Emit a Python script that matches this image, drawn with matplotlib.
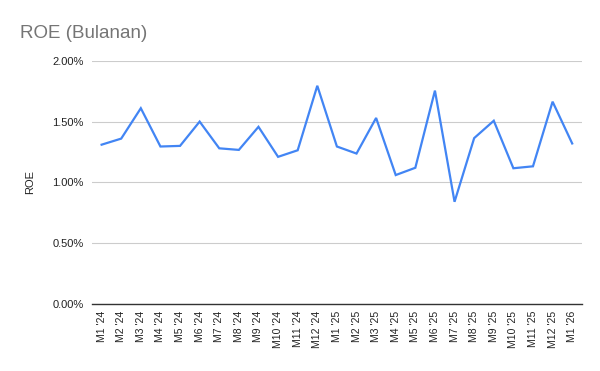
import matplotlib.pyplot as plt
from matplotlib.ticker import FuncFormatter

plt.rcParams['font.family'] = ['Liberation Sans', 'DejaVu Sans']

# ROE bulanan (%)
bulan = ["M1 '24", "M2 '24", "M3 '24", "M4 '24", "M5 '24", "M6 '24", "M7 '24",
         "M8 '24", "M9 '24", "M10 '24", "M11 '24", "M12 '24",
         "M1 '25", "M2 '25", "M3 '25", "M4 '25", "M5 '25", "M6 '25", "M7 '25",
         "M8 '25", "M9 '25", "M10 '25", "M11 '25", "M12 '25", "M1 '26"]
roe = [1.31, 1.36, 1.61, 1.295, 1.30, 1.50, 1.28, 1.267, 1.457, 1.21, 1.264, 1.795,
       1.295, 1.237, 1.53, 1.06, 1.12, 1.755, 0.84, 1.364, 1.507, 1.116, 1.132, 1.664,
       1.32]

fig = plt.figure(figsize=(6, 3.71), dpi=100)
ax = fig.add_axes([0.153, 0.181, 0.817, 0.655])

x = range(len(bulan))
ax.plot(x, roe, color='#4285F4', linewidth=1.6, solid_joinstyle='miter')

ax.set_ylim(0, 2.0)
ax.set_yticks([0, 0.5, 1.0, 1.5, 2.0])
ax.yaxis.set_major_formatter(FuncFormatter(lambda v, p: f'{v:.2f}%'))
ax.set_xlim(-0.5, len(bulan) - 0.5)
ax.set_xticks(list(x))
ax.set_xticklabels(bulan, rotation=90)

ax.grid(axis='y', color='#cccccc', linewidth=0.8)
ax.set_axisbelow(True)
for s in ['top', 'right', 'left']:
    ax.spines[s].set_visible(False)
ax.spines['bottom'].set_color('#333333')
ax.spines['bottom'].set_linewidth(1.0)
ax.tick_params(axis='both', length=0, colors='#222222')
ax.tick_params(axis='y', labelsize=8, pad=6)
ax.tick_params(axis='x', labelsize=7.5, pad=5)

ax.set_ylabel('ROE', fontsize=8, color='#222222', labelpad=12)
fig.text(0.033, 0.91, 'ROE (Bulanan)', fontsize=13.5, color='#757575', va='center')

fig.savefig('out.png', dpi=100)
